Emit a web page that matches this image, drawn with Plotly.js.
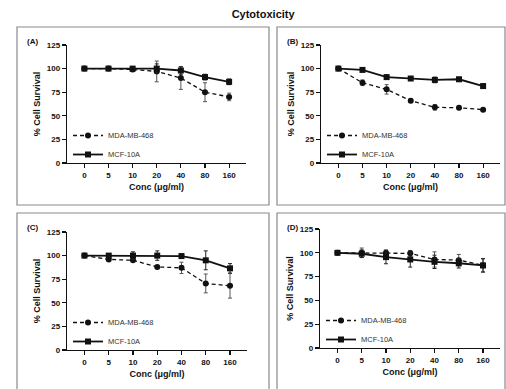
<!DOCTYPE html>
<html>
<head>
<meta charset="utf-8">
<script src="https://cdn.plot.ly/plotly-3.0.1.min.js"></script>
<style>html,body{margin:0;padding:0;background:#fff}#chart{width:506px;height:389px}</style>
</head>
<body>
<div id="chart"></div>
<script>
const conc = ['0','5','10','20','40','80','160'];
const panels = ['(A)','(B)','(C)','(D)'];
const seriesNames = ['MDA-MB-468','MCF-10A'];

// MDA-MB-468 means and SD per panel
const mdaA = [100, 100, 99, 97, 90, 75, 70];
const mdaAerr = [1, 1, 2, 11, 12, 10, 4];
const mcfA = [100, 100, 100, 100, 98, 91, 86];
const mcfAerr = [1, 1, 2, 5, 4, 3, 3];

const mdaB = [100, 85, 78, 66, 59, 58.5, 56.5];
const mdaBerr = [1, 3, 5, 2, 3, 2, 1];
const mcfB = [100, 98.6, 91, 89.5, 88, 88.7, 81.5];
const mcfBerr = [1, 1, 2, 1, 3, 2, 2];

const mdaC = [100, 96, 95, 88, 87, 70.5, 68];
const mdaCerr = [1, 1, 1, 1, 6, 10, 13];
const mcfC = [100, 100, 100, 100, 99.5, 95, 86.5];
const mcfCerr = [1, 2, 4, 5, 2, 10, 5];

const mdaD = [100, 100, 100, 99.4, 93, 92.3, 87];
const mdaDerr = [1, 5, 3, 3, 8, 6, 7];
const mcfD = [100, 99, 95.5, 93, 90.5, 89, 86.7];
const mcfDerr = [1, 4, 7, 8, 7, 5, 7];

const mdaAll = [[mdaA,mdaAerr],[mdaB,mdaBerr],[mdaC,mdaCerr],[mdaD,mdaDerr]];
const mcfAll = [[mcfA,mcfAerr],[mcfB,mcfBerr],[mcfC,mcfCerr],[mcfD,mcfDerr]];

const W = 506, H = 389;
const px = v => v / W;
const py = v => 1 - v / H;

// plot-area pixel geometry [left, right, top, bottom]
const geo = [
  [67, 246, 45, 163],
  [321, 500, 45, 163],
  [67, 247, 232, 350],
  [320, 500, 229, 348]
];
const boxes = [
  [17, 269, 27, 205],
  [277, 505, 27, 205],
  [17, 269, 213, 392],
  [277, 505, 213, 392]
];

const font = 'Liberation Sans, Arial, sans-serif';
const traces = [];
const layout = {
  width: W, height: H,
  margin: {l:0, r:0, t:0, b:0},
  paper_bgcolor: '#fff', plot_bgcolor: 'rgba(0,0,0,0)',
  showlegend: true,
  font: {family: font, color: '#111'},
  title: {text: '<b>Cytotoxicity</b>', x: 0.52, xanchor: 'center', y: 1 - 14/H, yanchor: 'middle',
          font: {size: 11, family: font, color: '#111'}},
  shapes: [], annotations: []
};

for (let i = 0; i < 4; i++) {
  const s = i === 0 ? '' : String(i + 1);
  const [l, r, t, b] = geo[i];
  const lg = i === 0 ? 'legend' : 'legend' + (i + 1);
  traces.push({
    type: 'scatter', mode: 'lines+markers', x: conc, y: mdaAll[i][0],
    error_y: {type: 'data', array: mdaAll[i][1], visible: true, color: '#555', thickness: 1, width: 2},
    line: {color: '#111', width: 1.3, dash: '4px,3px'},
    marker: {symbol: 'circle', size: 6, color: '#111'},
    name: seriesNames[0], xaxis: 'x' + s, yaxis: 'y' + s, legend: lg
  });
  traces.push({
    type: 'scatter', mode: 'lines+markers', x: conc, y: mcfAll[i][0],
    error_y: {type: 'data', array: mcfAll[i][1], visible: true, color: '#222', thickness: 1, width: 2},
    line: {color: '#111', width: 1.8},
    marker: {symbol: 'square', size: 6, color: '#111'},
    name: seriesNames[1], xaxis: 'x' + s, yaxis: 'y' + s, legend: lg
  });
  layout['xaxis' + s] = {
    domain: [px(l), px(r)], anchor: 'y' + s, type: 'category',
    range: [-0.72, 6.7], showgrid: false, zeroline: false,
    showline: true, linecolor: '#111', linewidth: 1.3,
    ticks: 'outside', ticklen: 4, tickwidth: 1.2, tickcolor: '#111',
    tickfont: {size: 8, family: font, color: '#111', weight: 'bold'},
    title: {text: '<b>Conc (μg/ml)</b>', font: {size: 9, family: font, color: '#111'}, standoff: 4},
    fixedrange: true
  };
  layout['yaxis' + s] = {
    domain: [py(b), py(t)], anchor: 'x' + s,
    range: [0, 125], tickvals: [0, 25, 50, 75, 100, 125],
    showgrid: false, zeroline: false,
    showline: true, linecolor: '#111', linewidth: 1.3,
    ticks: 'outside', ticklen: 4, tickwidth: 1.2, tickcolor: '#111',
    tickfont: {size: 8, family: font, color: '#111', weight: 'bold'},
    title: {text: '<b>% Cell Survival</b>', font: {size: 9, family: font, color: '#111'}, standoff: 4},
    fixedrange: true
  };
  layout[lg] = {
    x: px(l + 1), y: py(b - 42), xanchor: 'left', yanchor: 'top',
    bgcolor: 'rgba(0,0,0,0)', borderwidth: 0,
    font: {size: 7.5, family: font, color: '#333'},
    tracegroupgap: 0, itemwidth: 30
  };
  const [bl, br, bt, bb] = boxes[i];
  layout.shapes.push({type: 'rect', xref: 'paper', yref: 'paper',
    x0: px(bl), x1: px(br), y0: py(bb), y1: py(bt),
    line: {color: '#8a8a8a', width: 1.2}, fillcolor: 'rgba(0,0,0,0)'});
  layout.annotations.push({xref: 'paper', yref: 'paper', x: px(bl + 8), y: py(bt + 14),
    xanchor: 'left', yanchor: 'middle', text: '<b>' + panels[i] + '</b>', showarrow: false,
    font: {size: 8, family: font, color: '#111'}});
}

Plotly.newPlot('chart', traces, layout, {staticPlot: true, displayModeBar: false});
</script>
</body>
</html>
